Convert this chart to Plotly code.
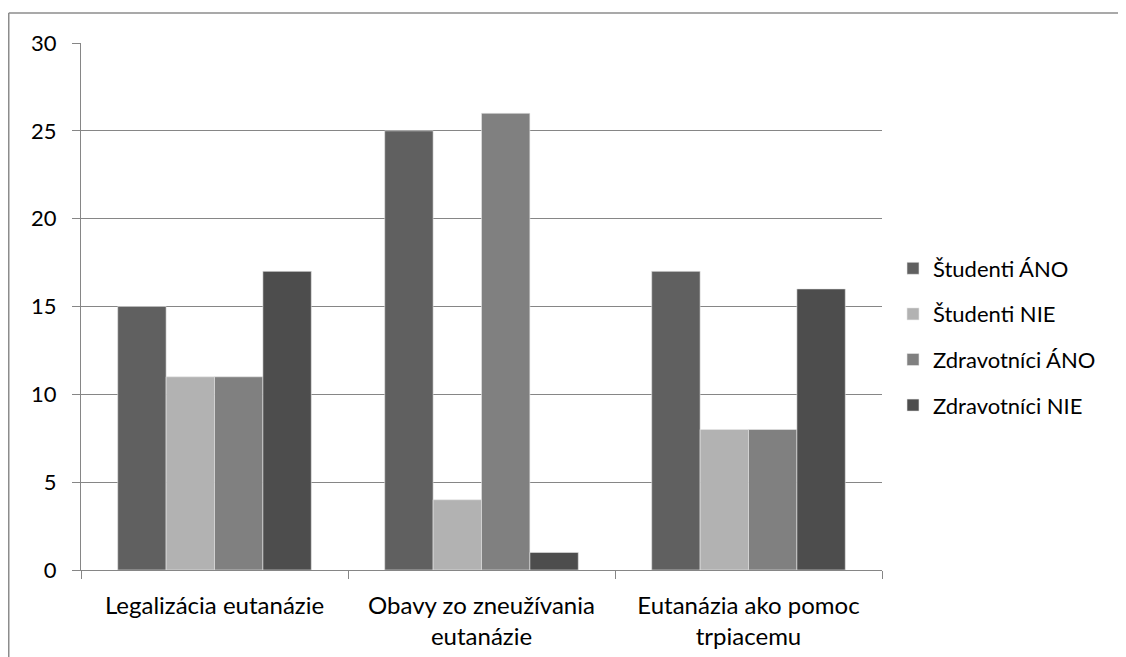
import plotly.graph_objects as go

categories = ["Legalizácia eutanázie", "Obavy zo zneužívania<br>eutanázie", "Eutanázia ako pomoc<br>trpiacemu"]
series_names = ["Študenti ÁNO", "Študenti NIE", "Zdravotníci ÁNO", "Zdravotníci NIE"]
studenti_ano = [15, 25, 17]
studenti_nie = [11, 4, 8]
zdravotnici_ano = [11, 26, 8]
zdravotnici_nie = [17, 1, 16]
y_ticks = [0, 5, 10, 15, 20, 25, 30]

colors = ["#606060", "#b2b2b2", "#808080", "#4d4d4d"]
values = [studenti_ano, studenti_nie, zdravotnici_ano, zdravotnici_nie]

fig = go.Figure()
for i, (name, vals) in enumerate(zip(series_names, values)):
    fig.add_trace(go.Bar(x=categories, y=vals, name=name, marker_color=colors[i],
                         marker_line_width=0.6, marker_line_color="#e8e8e8",
                         legendgroup=f"g{i}"))

# page body has an 8px margin, so work in page coords minus 8
OFF = 8
W, H = 1126 - OFF, 657 - OFF
L, R, T, B = 81 - OFF, 882 - OFF, 43 - OFF, 570 - OFF
pw, ph = R - L, B - T

fig.update_layout(
    width=W, height=H,
    margin=dict(l=L, r=W - R, t=T, b=H - B, autoexpand=False),
    paper_bgcolor="white", plot_bgcolor="white",
    barmode="group", bargap=0.275, bargroupgap=0,
    font=dict(family="Lato, Open Sans, sans-serif", size=22, color="#000000"),
    showlegend=True,
    legend=dict(x=(893 - OFF - L) / pw, y=(B - (337 - OFF)) / ph, xanchor="left", yanchor="middle",
                font=dict(size=22), tracegroupgap=14, bgcolor="rgba(0,0,0,0)",
                itemwidth=30),
    xaxis=dict(showgrid=False, showline=True, linecolor="#868686", linewidth=1,
               ticks="outside", ticklen=8, tickcolor="#868686", tickson="boundaries",
               tickfont=dict(size=24), ticklabelstandoff=14),
    yaxis=dict(range=[0, 30], tickvals=y_ticks, showgrid=True, gridcolor="#868686",
               gridwidth=1, showline=True, linecolor="#868686", linewidth=1,
               ticks="outside", ticklen=8, tickcolor="#868686", zeroline=False,
               tickfont=dict(size=22), ticklabelstandoff=11),
    shapes=[
        dict(type="line", xref="paper", yref="paper", x0=(0.75 - L) / pw, x1=(W + 10 - L) / pw,
             y0=(B - 5) / ph, y1=(B - 5) / ph, line=dict(color="#8c8c8c", width=1.5)),
        dict(type="line", xref="paper", yref="paper", x0=(0.75 - L) / pw, x1=(0.75 - L) / pw,
             y0=(B - 5) / ph, y1=(B - H - 10) / ph, line=dict(color="#8c8c8c", width=1.5)),
    ],
)

fig.write_html("out.html")
